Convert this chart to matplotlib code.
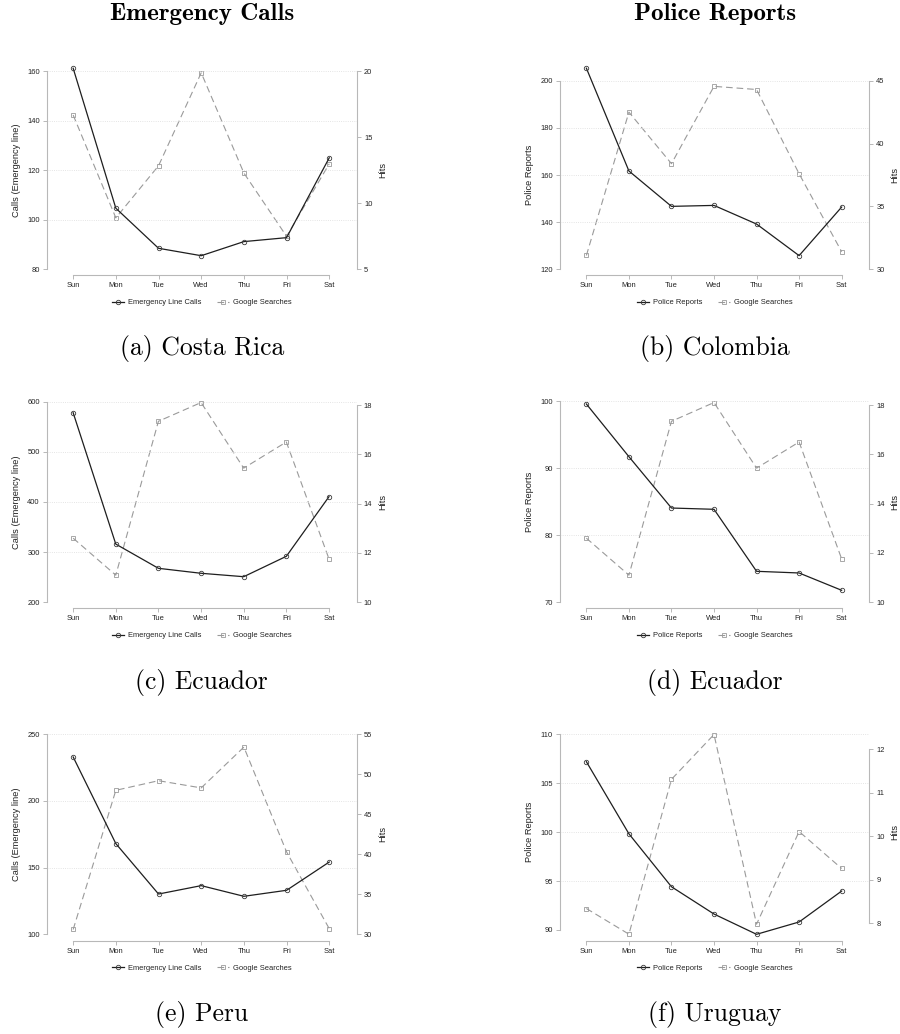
import matplotlib.pyplot as plt
import numpy as np

# Day-of-week profiles: left axis = calls / police reports, right axis = Google hits
days = ['Sun', 'Mon', 'Tue', 'Wed', 'Thu', 'Fri', 'Sat']

cr_calls = [161.3, 104.7, 88.5, 85.5, 91.2, 92.8, 125.1]
cr_google = [16.7, 8.9, 12.85, 19.9, 12.3, 7.5, 13.0]
co_reports = [205.3, 161.7, 146.7, 147.1, 139.2, 125.8, 146.4]
co_google = [31.1, 42.5, 38.4, 44.55, 44.3, 37.6, 31.4]
ec_calls = [577.7, 316.0, 267.7, 257.8, 251.0, 291.6, 410.4]
ec_google = [12.6, 11.1, 17.34, 18.1, 15.44, 16.5, 11.76]
ec_reports = [99.55, 91.7, 84.05, 83.86, 74.62, 74.37, 71.79]
pe_calls = [233.0, 168.0, 130.2, 136.5, 128.5, 133.0, 154.2]
pe_google = [30.6, 48.0, 49.2, 48.3, 53.4, 40.3, 30.7]
uy_reports = [107.2, 99.83, 94.42, 91.63, 89.56, 90.82, 93.98]
uy_google = [8.34, 7.75, 11.31, 12.34, 7.98, 10.11, 9.26]

# axis ticks
cr_ticks, cr_hits_ticks = [80, 100, 120, 140, 160], [5, 10, 15, 20]
co_ticks, co_hits_ticks = [120, 140, 160, 180, 200], [30, 35, 40, 45]
ecc_ticks, ec_hits_ticks = [200, 300, 400, 500, 600], [10, 12, 14, 16, 18]
ecr_ticks = [70, 80, 90, 100]
pe_ticks, pe_hits_ticks = [100, 150, 200, 250], [30, 35, 40, 45, 50, 55]
uy_ticks, uy_hits_ticks = [90, 95, 100, 105, 110], [8, 9, 10, 11, 12]

titles = ['Emergency Calls', 'Police Reports']
captions = ['(a) Costa Rica', '(b) Colombia', '(c) Ecuador',
            '(d) Ecuador', '(e) Peru', '(f) Uruguay']

W, H = 900, 1034
fig = plt.figure(figsize=(W / 100, H / 100), dpi=100)

SANS = 'Liberation Sans'
AXC = '#b8b8b8'
TXT = '#222222'

# pixel layout: x of left/right spines, pixel rows of first/last left tick,
# pixel rows of first/last right tick, row of the x axis line
panels = [
    dict(series=(cr_calls, cr_google), ticks=(cr_ticks, cr_hits_ticks), kind='calls',
         xl=46.7, xr=357, lp=(269.3, 71.5), rp=(269.3, 69.3), xax=275.3),
    dict(series=(co_reports, co_google), ticks=(co_ticks, co_hits_ticks), kind='police',
         xl=560, xr=869.3, lp=(269.3, 80.7), rp=(269.3, 69.0), xax=275.3),
    dict(series=(ec_calls, ec_google), ticks=(ecc_ticks, ec_hits_ticks), kind='calls',
         xl=46.7, xr=356.7, lp=(602.3, 401.5), rp=(602.3, 405.0), xax=608.3),
    dict(series=(ec_reports, ec_google), ticks=(ecr_ticks, ec_hits_ticks), kind='police',
         xl=560, xr=869.3, lp=(602.3, 401.0), rp=(602.3, 405.0), xax=608.3),
    dict(series=(pe_calls, pe_google), ticks=(pe_ticks, pe_hits_ticks), kind='calls',
         xl=46.7, xr=357, lp=(934.3, 734.3), rp=(934.3, 734.3), xax=940.7),
    dict(series=(uy_reports, uy_google), ticks=(uy_ticks, uy_hits_ticks), kind='police',
         xl=560, xr=869.3, lp=(930.0, 734.3), rp=(923.3, 749.3), xax=940.7),
]
caption_y = [349, 349, 682, 682, 1015, 1015]

x = np.arange(len(days))

for i, p in enumerate(panels):
    main, hits = p['series']
    lticks, rticks = p['ticks']
    ybot, ytop = p['lp']
    ax = fig.add_axes([p['xl'] / W, 1 - ybot / H, (p['xr'] - p['xl']) / W, (ybot - ytop) / H])
    ax.set_xlim(-0.62, 6.65)
    ax.set_ylim(lticks[0], lticks[-1])

    # right axis limits so its ticks land on their own rows
    r0, r1 = p['rp']
    slope = (r0 - r1) / (rticks[-1] - rticks[0])
    ax2 = ax.twinx()
    ax2.set_ylim(rticks[0] + (r0 - ybot) / slope, rticks[0] + (r0 - ytop) / slope)

    for a in (ax, ax2):
        for s in a.spines.values():
            s.set_color(AXC)
            s.set_linewidth(0.8)
        a.spines['top'].set_visible(False)
    ax.spines['right'].set_visible(False)
    ax2.spines['left'].set_visible(False)
    ax2.spines['bottom'].set_visible(False)
    ax.spines['left'].set_bounds(lticks[0], lticks[-1])
    ax2.spines['right'].set_bounds(rticks[0], rticks[-1])
    ax.spines['bottom'].set_bounds(0, 6)
    ax.spines['bottom'].set_position(('outward', (p['xax'] - ybot) * 0.72))

    ax.set_yticks(lticks)
    ax2.set_yticks(rticks)
    ax.set_xticks(x)
    ax.set_xticklabels(days)
    ax.tick_params(axis='both', labelsize=5.4, colors=AXC, labelcolor=TXT,
                   length=3, width=0.7, pad=2)
    ax2.tick_params(axis='y', labelsize=5.4, colors=AXC, labelcolor=TXT,
                    length=3, width=0.7, pad=2)
    for lab in ax.get_xticklabels() + ax.get_yticklabels() + ax2.get_yticklabels():
        lab.set_family(SANS)

    ax.grid(axis='y', color='#dcdcdc', linestyle=':', linewidth=0.6)
    ax.set_axisbelow(True)

    if p['kind'] == 'calls':
        ylab, lname = 'Calls (Emergency line)', 'Emergency Line Calls'
    else:
        ylab, lname = 'Police Reports', 'Police Reports'
    ymid = 1 - (ybot + ytop) / 2 / H
    fig.text((p['xl'] - 30) / W, ymid, ylab, family=SANS, fontsize=6.7, color=TXT,
             rotation=90, ha='center', va='center')
    fig.text((p['xr'] + 25.7) / W, ymid, 'Hits', family=SANS, fontsize=6.7, color=TXT,
             rotation=90, ha='center', va='center')

    l2, = ax2.plot(x, hits, color='#9a9a9a', linestyle=(0, (6, 3.5)), linewidth=0.8,
                   marker='s', markersize=3.2, markerfacecolor='none',
                   markeredgewidth=0.6, clip_on=False, label='Google Searches')
    l1, = ax.plot(x, main, color='#1e1e1e', linewidth=0.9,
                  marker='o', markersize=3.2, markerfacecolor='none',
                  markeredgecolor='#3a3a3a', markeredgewidth=0.6,
                  clip_on=False, label=lname, zorder=5)
    ax.set_zorder(ax2.get_zorder() + 1)
    ax.patch.set_visible(False)

    cx = (p['xl'] + p['xr']) / 2
    fig.legend([l1, l2], [lname, 'Google Searches'], loc='center',
               bbox_to_anchor=(cx / W, 1 - (p['xax'] + 27.4) / H), ncol=2,
               frameon=False, prop={'family': SANS, 'size': 5.4},
               handlelength=1.6, handletextpad=0.6, columnspacing=2.0,
               labelcolor=TXT)

    fig.text(cx / W, 1 - caption_y[i] / H, captions[i], family='cmr10',
             fontsize=18.5, ha='center', va='center')

fig.text(202 / W, 1 - 14 / H, titles[0], family='cmb10', fontsize=18,
         ha='center', va='center')
fig.text(715 / W, 1 - 14 / H, titles[1], family='cmb10', fontsize=18,
         ha='center', va='center')

fig.savefig('out.png', dpi=100, facecolor='white')
